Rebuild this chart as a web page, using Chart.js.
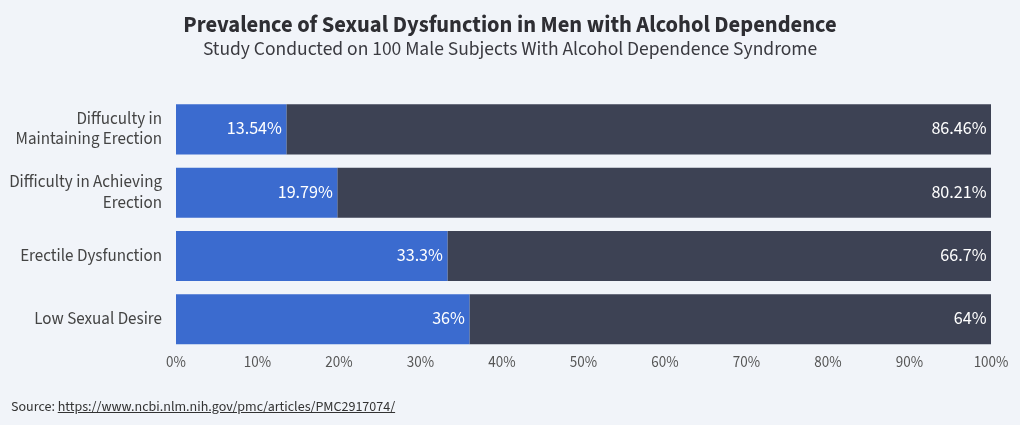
<!DOCTYPE html>
<html>
<head>
<meta charset="utf-8">
<script src="https://cdn.jsdelivr.net/npm/chart.js@4"></script>
<style>
  html, body { margin:0; padding:0; background:#f1f4f9; }
  #wrap { position:relative; width:1020px; height:425px; }
  canvas { display:block; }
  #source { position:absolute; left:11px; top:397px; font-family:'Source Sans Pro','Source Sans 3',Lato,sans-serif; font-size:14px; color:#333; }
  #source a { color:#333; text-decoration:underline; }
</style>
</head>
<body>
<div id="wrap">
  <canvas id="c" width="1020" height="425"></canvas>
  <div id="source">Source: <a href="https://www.ncbi.nlm.nih.gov/pmc/articles/PMC2917074/">https://www.ncbi.nlm.nih.gov/pmc/articles/PMC2917074/</a></div>
</div>
<script>
const categories = [
  ["Diffuculty in", "Maintaining Erection"],
  ["Difficulty in Achieving", "Erection"],
  "Erectile Dysfunction",
  "Low Sexual Desire"
];
const prevalence = [13.54, 19.79, 33.3, 36];
const remainder = [86.46, 80.21, 66.7, 64];
const xTicks = [0, 10, 20, 30, 40, 50, 60, 70, 80, 90, 100];
const titleText = 'Prevalence of Sexual Dysfunction in Men with Alcohol Dependence';
const subtitleText = 'Study Conducted on 100 Male Subjects With Alcohol Dependence Syndrome';

const FONT = "'Source Sans Pro','Source Sans 3',Lato,sans-serif";

const titlePlugin = {
  id: 'centeredTitles',
  afterDraw(chart) {
    const ctx = chart.ctx;
    ctx.save();
    ctx.textAlign = 'center';
    ctx.textBaseline = 'middle';
    ctx.fillStyle = '#2e2e33';
    ctx.font = "bold 22.5px " + FONT;
    ctx.fillText(titleText, chart.width / 2, 27.5);
    ctx.fillStyle = '#3a3a40';
    ctx.font = "19.5px " + FONT;
    ctx.fillText(subtitleText, chart.width / 2, 51);
    ctx.restore();
  }
};

const labelPlugin = {
  id: 'endLabels',
  afterDatasetsDraw(chart) {
    const ctx = chart.ctx;
    ctx.save();
    ctx.font = "18px " + FONT;
    ctx.fillStyle = '#ffffff';
    ctx.textAlign = 'right';
    ctx.textBaseline = 'middle';
    chart.data.datasets.forEach((ds, di) => {
      const meta = chart.getDatasetMeta(di);
      meta.data.forEach((bar, i) => {
        const v = ds.data[i];
        ctx.fillText(v + '%', bar.x - 4.5, bar.y + 1);
      });
    });
    ctx.restore();
  }
};

new Chart(document.getElementById('c'), {
  type: 'bar',
  data: {
    labels: categories,
    datasets: [
      { label: 'Yes', data: prevalence, backgroundColor: '#3b6bcf', barPercentage: 0.79, categoryPercentage: 1 },
      { label: 'No', data: remainder, backgroundColor: '#3d4254', barPercentage: 0.79, categoryPercentage: 1 }
    ]
  },
  options: {
    responsive: false,
    animation: false,
    indexAxis: 'y',
    layout: { padding: { left: 0, right: 29, top: 97.7, bottom: 44 } },
    plugins: {
      legend: { display: false },
      tooltip: { enabled: false },
      title: { display: false },
      subtitle: { display: false }
    },
    scales: {
      x: {
        stacked: true,
        min: 0, max: 100,
        grid: { display: false, drawTicks: false },
        border: { display: false },
        afterBuildTicks(axis) { axis.ticks = xTicks.map(v => ({ value: v })); },
        afterFit(axis) { axis.height = 30; },
        ticks: {
          color: '#555',
          padding: 4,
          font: { family: FONT, size: 15 },
          callback: v => v + '%'
        }
      },
      y: {
        stacked: true,
        grid: { display: false, drawTicks: false },
        border: { display: false },
        afterFit(axis) { axis.width = 176; },
        ticks: {
          color: '#444',
          padding: 14,
          labelOffset: 1,
          font: { family: FONT, size: 17, lineHeight: 1.2 }
        }
      }
    }
  },
  plugins: [labelPlugin, titlePlugin]
});
</script>
</body>
</html>
